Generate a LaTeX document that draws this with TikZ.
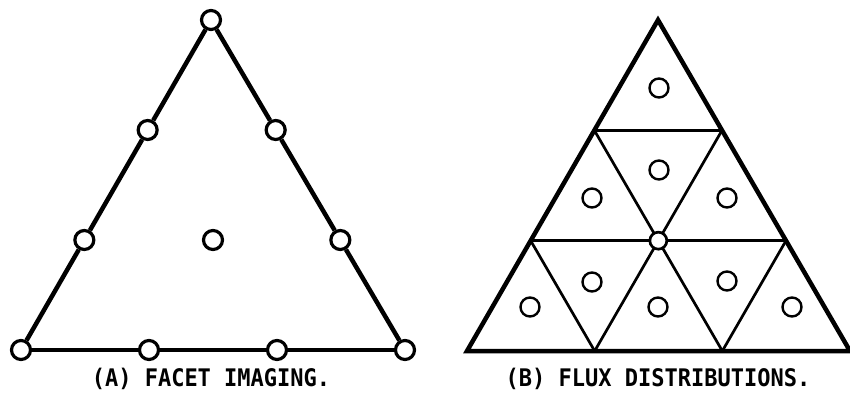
\documentclass[tikz,border=0pt]{standalone}
\usepackage{fontspec}
\setmonofont{DejaVu Sans Mono}
\usetikzlibrary{positioning, calc}
\tikzset{
  ring/.style={circle, draw=black, fill=white, line width=3.2pt, minimum size=19pt, inner sep=0pt},
  spot/.style={circle, draw=black, fill=white, line width=2.4pt, minimum size=19pt, inner sep=0pt},
  rim/.style={line width=4.5pt, line join=miter},
  web/.style={line width=2.7pt},
  captext/.style={font=\ttfamily\bfseries\fontsize{22}{24}\selectfont, yscale=1.1}
}
\begin{document}
\begin{tikzpicture}[x=1pt, y=-1pt]
  \useasboundingbox (0,0) rectangle (850,395);

  % (A) facet imaging
  \node (a1) [ring] at (21,350) {};
  \node (a2) [ring] at (211,20) {};
  \node (a3) [ring] at (405,350) {};
  \node (l1) [ring] at ($(a1)!1/3!(a2)$) {};
  \node (l2) [ring] at ($(a1)!2/3!(a2)$) {};
  \node (r1) [ring] at ($(a3)!1/3!(a2)$) {};
  \node (r2) [ring] at ($(a3)!2/3!(a2)$) {};
  \node (b1) [ring] at ($(a1)!1/3!(a3)$) {};
  \node (b2) [ring] at ($(a1)!2/3!(a3)$) {};
  \node (mid) [ring] at (213,240) {};

  \draw [rim] (a1) -- (l1) -- (l2) -- (a2);
  \draw [rim] (a2) -- (r2) -- (r1) -- (a3);
  \draw [rim] (a3) -- (b2) -- (b1) -- (a1);

  \node (capA) [captext] at (211,379) {(A) FACET IMAGING.};

  % (B) flux distributions
  \coordinate (p1) at (467,351);
  \coordinate (p2) at (658,20);
  \coordinate (p3) at (850,351);
  \coordinate (lA) at ($(p1)!1/3!(p2)$);
  \coordinate (lB) at ($(p1)!2/3!(p2)$);
  \coordinate (rA) at ($(p3)!1/3!(p2)$);
  \coordinate (rB) at ($(p3)!2/3!(p2)$);
  \coordinate (bA) at ($(p1)!1/3!(p3)$);
  \coordinate (bB) at ($(p1)!2/3!(p3)$);

  \draw [web] (lA) -- (rA);
  \draw [web] (lB) -- (rB);
  \draw [web] (bA) -- (rB);
  \draw [web] (bB) -- (rA);
  \draw [web] (bB) -- (lB);
  \draw [web] (bA) -- (lA);
  \draw [rim] (p1) -- (p2) -- (p3) -- cycle;

  \node (hub) [ring, line width=2.7pt, minimum size=17pt] at ($(lA)!0.5!(rA)$) {};

  \node (s1) [spot] at (659,88) {};
  \node (s2) [spot] at (592,198) {};
  \node (s3) [spot] at (659,170) {};
  \node (s4) [spot] at (727,198) {};
  \node (s5) [spot] at (530,307) {};
  \node (s6) [spot] at (592,282) {};
  \node (s7) [spot] at (658,307) {};
  \node (s8) [spot] at (727,281) {};
  \node (s9) [spot] at (792,307) {};

  \node (capB) [captext] at (658,379) {(B) FLUX DISTRIBUTIONS.};
\end{tikzpicture}
\end{document}
